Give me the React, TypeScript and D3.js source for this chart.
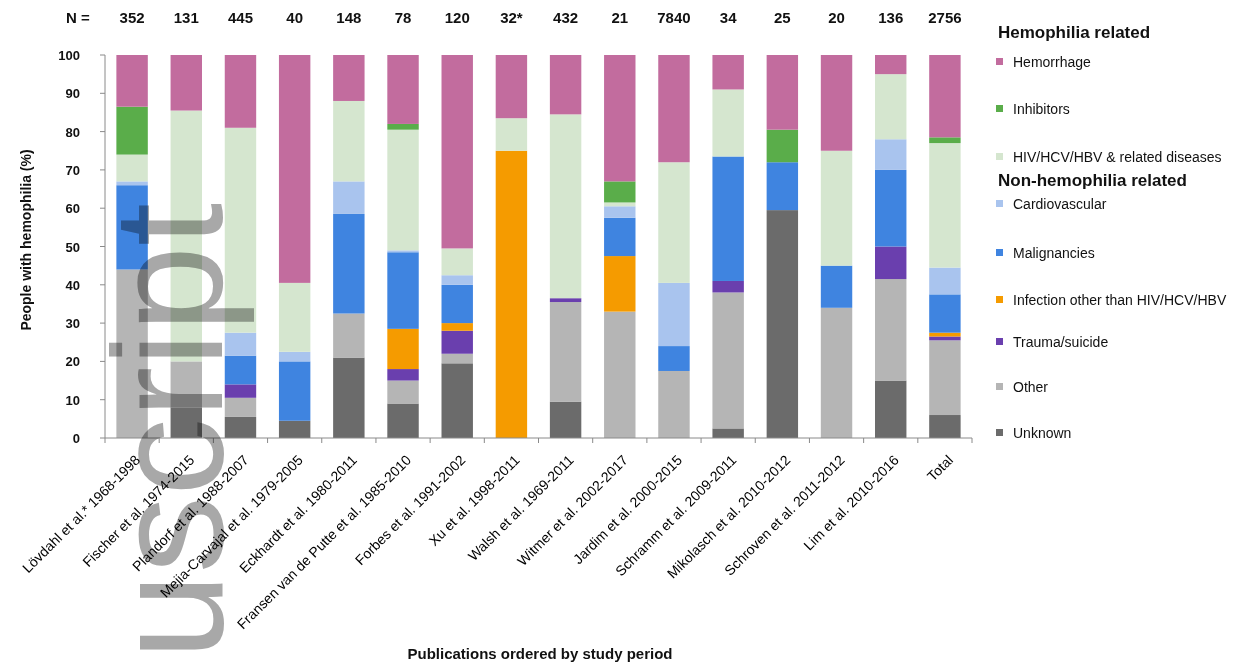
import React from "react";
import * as d3 from "d3";

const studies = [
  "Lövdahl et al.* 1968-1998",
  "Fischer et al. 1974-2015",
  "Plandorf et al. 1988-2007",
  "Mejia-Carvajal et al. 1979-2005",
  "Eckhardt et al. 1980-2011",
  "Fransen van de Putte et al. 1985-2010",
  "Forbes et al. 1991-2002",
  "Xu et al. 1998-2011",
  "Walsh et al. 1969-2011",
  "Witmer et al. 2002-2017",
  "Jardim et al. 2000-2015",
  "Schramm et al. 2009-2011",
  "Mikolasch et al. 2010-2012",
  "Schroven et al. 2011-2012",
  "Lim et al. 2010-2016",
  "Total",
];
const nLabels = ["352", "131", "445", "40", "148", "78", "120", "32*", "432", "21", "7840", "34", "25", "20", "136", "2756"];

// stacked bottom -> top
const unknown = [0, 8, 5.5, 4.5, 21, 9, 19.5, 0, 9.5, 0, 0, 2.5, 59.5, 0, 15, 6];
const other = [44, 12, 5, 0, 11.5, 6, 2.5, 0, 26, 33, 17.5, 35.5, 0, 34, 26.5, 19.5];
const trauma = [0, 0, 3.5, 0, 0, 3, 6, 0, 1, 0, 0, 3, 0, 0, 8.5, 1];
const infection = [0, 0, 0, 0, 0, 10.5, 2, 75, 0, 14.5, 0, 0, 0, 0, 0, 1];
const malignancies = [22, 0, 7.5, 15.5, 26, 20, 10, 0, 0, 10, 6.5, 32.5, 12.5, 11, 20, 10];
const cardiovascular = [1, 0, 6, 2.5, 8.5, 0.5, 2.5, 0, 0, 3, 16.5, 0, 0, 0, 8, 7];
const hivRelated = [7, 65.5, 53.5, 18, 21, 31.5, 7, 8.5, 48, 1, 31.5, 17.5, 0, 30, 17, 32.5];
const inhibitors = [12.5, 0, 0, 0, 0, 1.5, 0, 0, 0, 5.5, 0, 0, 8.5, 0, 0, 1.5];
const hemorrhage = [13.5, 14.5, 19, 59.5, 12, 18, 50.5, 16.5, 15.5, 33, 28, 9, 19.5, 25, 5, 21.5];

const seriesNames = [
  "Unknown", "Other", "Trauma/suicide", "Infection other than HIV/HCV/HBV", "Malignancies",
  "Cardiovascular", "HIV/HCV/HBV & related diseases", "Inhibitors", "Hemorrhage",
];
const seriesValues = [unknown, other, trauma, infection, malignancies, cardiovascular, hivRelated, inhibitors, hemorrhage];
const seriesColors = ["#6b6b6b", "#b5b5b5", "#6a3fae", "#f59b00", "#3f84e0", "#a9c4ee", "#d5e6cf", "#5aad4a", "#c26c9e"];
const yTicks = [0, 10, 20, 30, 40, 50, 60, 70, 80, 90, 100];

const legendHem = [8, 7, 6];
const legendNon = [5, 4, 3, 2, 1, 0];

export default function App() {
  const W = 1244, H = 666;
  const x = d3.scaleBand<string>().domain(studies).range([105, 972]).paddingInner(0.42).paddingOuter(0.21);
  const y = d3.scaleLinear().domain([0, 100]).range([438, 55]);

  const table = studies.map((s, i) => {
    const row: any = { study: s };
    seriesNames.forEach((n, k) => (row[n] = seriesValues[k][i]));
    return row;
  });
  const stacked = d3.stack<any>().keys(seriesNames)(table);

  const font = "'Liberation Sans', Arial, sans-serif";
  const legendY = [62, 109, 157, 204, 253, 300, 342, 387, 433];
  const legendOrder = [...legendHem, ...legendNon];

  return (
    <svg width={W} height={H} style={{ position: "absolute", left: 0, top: 0, background: "#fff" }} fontFamily={font}>
      {/* N row */}
      <text x={78} y={23} textAnchor="middle" fontSize={15} fontWeight="bold" fill="#111">N =</text>
      {studies.map((s, i) => (
        <text key={"n" + i} x={x(s)! + x.bandwidth() / 2} y={23} textAnchor="middle" fontSize={15} fontWeight="bold" fill="#111">
          {nLabels[i]}
        </text>
      ))}

      {/* bars */}
      {stacked.map((layer, k) => (
        <g key={"l" + k} fill={seriesColors[k]}>
          {layer.map((d, i) =>
            d[1] - d[0] > 0 ? (
              <rect key={i} x={x(studies[i])} y={y(d[1])} width={x.bandwidth()} height={y(d[0]) - y(d[1])} />
            ) : null
          )}
        </g>
      ))}

      {/* y axis */}
      <line x1={105} x2={105} y1={y(100)} y2={y(0)} stroke="#8a8a8a" strokeWidth={1} />
      {yTicks.map((t) => (
        <g key={"t" + t}>
          <line x1={100} x2={105} y1={y(t)} y2={y(t)} stroke="#8a8a8a" />
          <text x={80} y={y(t) + 5} textAnchor="end" fontSize={13} fontWeight="bold" fill="#111">{t}</text>
        </g>
      ))}
      <text transform={`translate(31,${240}) rotate(-90)`} textAnchor="middle" fontSize={14} fontWeight="bold" fill="#111">
        People with hemophilia (%)
      </text>

      {/* x axis */}
      <line x1={105} x2={972} y1={438} y2={438} stroke="#8a8a8a" />
      {d3.range(17).map((k) => {
        const xx = 105 + k * x.step();
        return <line key={"xt" + k} x1={xx} x2={xx} y1={438} y2={443} stroke="#8a8a8a" />;
      })}
      {studies.map((s, i) => {
        const cx = x(s)! + x.bandwidth() / 2 + 9;
        return (
          <text key={"xl" + i} transform={`translate(${cx},461) rotate(-45)`} textAnchor="end" fontSize={14} fill="#000">
            {s}
          </text>
        );
      })}
      <text x={540} y={659} textAnchor="middle" fontSize={15} fontWeight="bold" fill="#111">
        Publications ordered by study period
      </text>

      {/* legend */}
      <text x={998} y={38} fontSize={17} fontWeight="bold" fill="#111">Hemophilia related</text>
      <text x={998} y={186} fontSize={17} fontWeight="bold" fill="#111">Non-hemophilia related</text>
      {legendOrder.map((k, j) => (
        <g key={"lg" + k}>
          <rect x={996} y={legendY[j] - 4} width={7} height={7} fill={seriesColors[k]} />
          <text x={1013} y={legendY[j] + 5} fontSize={14} fill="#111">{seriesNames[k]}</text>
        </g>
      ))}

      {/* manuscript watermark */}
      <text
        transform="translate(222,203) rotate(-90)"
        textAnchor="end"
        fontSize={155}
        fill="#a8a8a8"
        style={{ mixBlendMode: "multiply" }}
      >
        uscript
      </text>
    </svg>
  );
}
